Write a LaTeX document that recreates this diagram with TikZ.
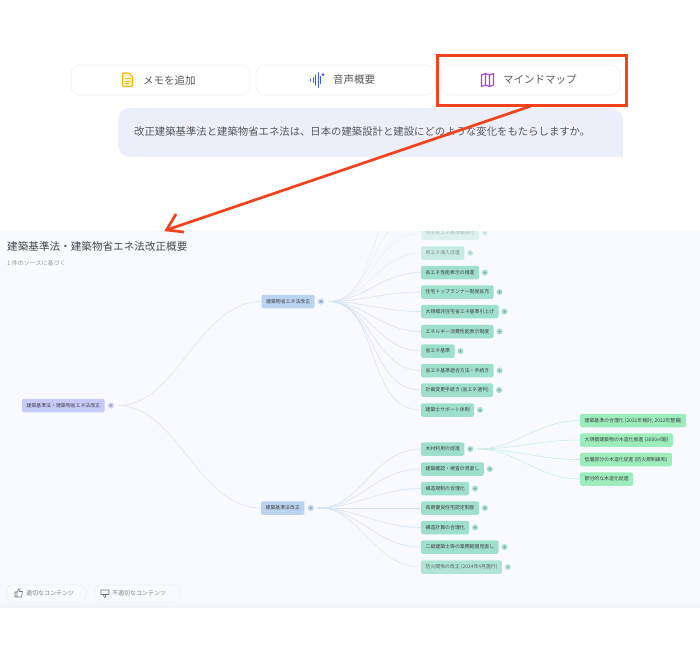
\documentclass[tikz,border=0pt]{standalone}
\usepackage{fontspec}
\setmainfont{Noto Sans CJK JP}
\usetikzlibrary{positioning}
\definecolor{panelbg}{HTML}{F8FAFF}
\definecolor{bubblebg}{HTML}{ECEEFA}
\definecolor{edgegray}{HTML}{EEF0F5}
\definecolor{marker}{HTML}{F4421A}
\definecolor{rootfill}{HTML}{C6CBFC}
\definecolor{mainfill}{HTML}{B9D3F1}
\definecolor{rowfill}{HTML}{9FE0CC}
\definecolor{leaffill}{HTML}{9DEDBC}
\definecolor{rootline}{HTML}{DFE2FC}
\definecolor{mainline}{HTML}{D5E3F7}
\definecolor{leafline}{HTML}{C9EDE3}
\definecolor{docicon}{HTML}{FBBC04}
\definecolor{waveicon}{HTML}{3F5BF6}
\definecolor{mapicon}{HTML}{B13CF0}
\begin{document}
\begin{tikzpicture}[x=1pt,y=-1pt]
    % Define styles
    \tikzset{
        topbutton/.style={draw=edgegray, fill=white, rounded corners=9pt, minimum width=179pt, minimum height=30pt, inner sep=0pt, line width=0.6pt},
        toplabel/.style={font=\fontsize{10.5}{12}\selectfont, text=black!65, inner sep=0pt},
        smallbutton/.style={draw=edgegray, fill=panelbg, rounded corners=7pt, minimum height=17pt, inner sep=0pt, line width=0.6pt},
        smalllabel/.style={font=\fontsize{6}{7}\selectfont, text=black!50, inner sep=0pt},
        topicbase/.style={rounded corners=1.5pt, anchor=west, inner xsep=4.4pt, inner ysep=0pt, minimum height=13.5pt, font=\fontsize{4.9}{6}\selectfont, text=black!75},
        roottopic/.style={topicbase, fill=rootfill},
        maintopic/.style={topicbase, fill=mainfill},
        rowtopic/.style={topicbase, fill=rowfill},
        leaftopic/.style={topicbase, fill=leaffill},
        togglebtn/.style={circle, fill=#1, minimum size=6pt, inner sep=0pt, path picture={\fill[black!45] (path picture bounding box.center) circle (1pt);}},
        branch/.style={line width=0.6pt, draw=#1, shorten <=4pt},
        redline/.style={draw=marker, line width=2.7pt}
    }

    \useasboundingbox (0,0) rectangle (700,649);

    % Draw top buttons
    \node[topbutton] (memo) at (160.5,80) {};
    \node[topbutton] (audio) at (345.5,80) {};
    \node[topbutton] (mindmap) at (530.5,80) {};
    \node[toplabel, anchor=west] (memolabel) at (143,80) {メモを追加};
    \node[toplabel, anchor=west] (audiolabel) at (333,80) {音声概要};
    \node[toplabel, anchor=west] (mindmaplabel) at (503,80) {マインドマップ};

    % Draw button icons
    \draw[draw=docicon, line width=1.3pt, rounded corners=1.2pt, fill=docicon!15] (122.5,73) -- (129,73) -- (132.5,76.5) -- (132.5,86.5) -- (122.5,86.5) -- cycle;
    \draw[draw=docicon, line width=0.9pt] (124.5,78.5) -- (130.5,78.5) (124.5,81) -- (130.5,81) (124.5,83.5) -- (128.5,83.5);
    \foreach \barx/\barh in {310.5/1,313/2.5,315.5/5,318/7.5,320.5/3.5} {
        \draw[draw=waveicon, line width=1pt, line cap=round] (\barx,80-\barh) -- (\barx,80+\barh);
    }
    \fill[waveicon] (323,74.5) circle (1.5pt);
    \draw[draw=mapicon, line width=1.1pt, line join=round] (481.5,75) -- (485.5,73.5) -- (489.5,75) -- (493.5,73.5) -- (493.5,85) -- (489.5,86.5) -- (485.5,85) -- (481.5,86.5) -- cycle (485.5,73.5) -- (485.5,85) (489.5,75) -- (489.5,86.5);

    % Draw question bubble
    \fill[bubblebg, rounded corners=12pt] (118,108) -- (623,108) -- (623,140) [sharp corners] -- (623,157) [rounded corners=12pt] -- (118,157) -- cycle;
    \node[toplabel, anchor=west, font=\fontsize{10.37}{12}\selectfont] (question) at (134,131.5) {改正建築基準法と建築物省エネ法は、日本の建築設計と建設にどのような変化をもたらしますか。};

    % Draw mind map panel
    \fill[panelbg] (0,231) rectangle (700,600);
    \shade[top color=panelbg, bottom color=black!3!panelbg] (0,600) rectangle (700,607);

    % Draw mind map heading
    \node[anchor=west, inner sep=0pt, font=\fontsize{10.6}{12}\selectfont, text=black!72] (maptitle) at (7,246) {建築基準法・建築物省エネ法改正概要};
    \node[anchor=west, inner sep=0pt, font=\fontsize{6}{7}\selectfont, text=black!40] (mapsource) at (7,263) {1 件のソースに基づく};

    \begin{scope}
        \clip (0,231) rectangle (700,607);

        % Draw root and main topics
        \node[roottopic] (root) at (22,405.5) {建築基準法・建築物省エネ法改正};
        \node[togglebtn=rootfill, right=3pt of root] (rootdot) {};
        \node[maintopic] (energy) at (261.5,301.5) {建築物省エネ法改正};
        \node[togglebtn=mainfill, right=3pt of energy] (energydot) {};
        \node[maintopic] (building) at (261,508) {建築基準法改正};
        \node[togglebtn=mainfill, right=3pt of building] (buildingdot) {};
        \draw[branch=rootline] (rootdot.east) to[out=0, in=180, looseness=0.9] (energy.west);
        \draw[branch=rootline] (rootdot.east) to[out=0, in=180, looseness=0.9] (building.west);

        % Draw branches that run out of the panel
        \coordinate (hiddena) at (421,214);
        \coordinate (hiddenb) at (421,194);
        \draw[branch=mainline, opacity=0.5] (energydot.east) to[out=0, in=180] (hiddena);
        \draw[branch=mainline, opacity=0.5] (energydot.east) to[out=0, in=180] (hiddenb);

        % Draw energy law rows
        \foreach \rowname/\rowy/\rowfade/\rowtext in {
            ea/233/0.3/住宅省エネ基準義務化,
            eb/253/0.55/再エネ導入促進,
            ec/272.5/1/省エネ性能表示の推進,
            ed/292/1/住宅トップランナー制度拡充,
            ee/311.5/1/大規模非住宅省エネ基準引上げ,
            ef/331.5/1/エネルギー消費性能表示制度,
            eg/351/1/省エネ基準,
            eh/370.5/1/省エネ基準適合方法・手続き,
            ei/390/1/計画変更手続き (省エネ適判),
            ej/410/1/建築士サポート体制} {
            \node[rowtopic, opacity=\rowfade] (\rowname) at (421,\rowy) {\rowtext};
            \node[togglebtn=rowfill, opacity=\rowfade, right=2.5pt of \rowname] (\rowname-dot) {};
            \draw[branch=mainline, opacity=\rowfade] (energydot.east) to[out=0, in=180] (\rowname.west);
        }

        % Draw building law rows
        \foreach \rowname/\rowy/\rowfade/\rowtext in {
            ba/449/1/木材利用の促進,
            bb/469/1/建築確認・検査の見直し,
            bc/488.5/1/構造規制の合理化,
            bd/508/1/長期優良住宅認定制度,
            be/527.5/1/構造計算の合理化,
            bf/547/1/二級建築士等の業務範囲見直し,
            bg/567/0.8/防火関係の改正 (2024年4月施行)} {
            \node[rowtopic, opacity=\rowfade] (\rowname) at (421,\rowy) {\rowtext};
            \node[togglebtn=rowfill, opacity=\rowfade, right=2.5pt of \rowname] (\rowname-dot) {};
            \draw[branch=mainline, opacity=\rowfade] (buildingdot.east) to[out=0, in=180] (\rowname.west);
        }

        % Draw timber leaves
        \foreach \leafname/\leafy/\leaftext in {
            la/420.5/{建築基準の合理化 (2021年検討, 2022年整備)},
            lb/440/大規模建築物の木造化推進 (3000㎡超),
            lc/459.5/低層部分の木造化促進 (防火規制緩和),
            ld/479/部分的な木造化促進} {
            \node[leaftopic] (\leafname) at (580,\leafy) {\leaftext};
            \draw[branch=leafline] (ba-dot.east) to[out=0, in=180] (\leafname.west);
        }
    \end{scope}

    % Draw feedback buttons
    \node[smallbutton, minimum width=80pt] (goodbtn) at (46.5,593.5) {};
    \node[smallbutton, minimum width=86pt] (badbtn) at (137,593.5) {};
    \node[smalllabel, anchor=west] (goodlabel) at (26,593.5) {適切なコンテンツ};
    \node[smalllabel, anchor=west] (badlabel) at (112,593.5) {不適切なコンテンツ};
    \draw[black!55, line width=0.6pt, line join=round] (15,592) rectangle (17,597) (17,592) -- (19,588.5) -- (20,589.5) -- (19.5,591.5) -- (22.5,591.5) -- (21.5,597) -- (17,597);
    \draw[black!55, line width=0.6pt, line join=round] (101,590) rectangle (109,594.5) (103,594.5) -- (104.5,597.5) -- (105.5,597) -- (105.5,594.5);

    % Draw highlight box and arrow
    \node[draw=marker, line width=3pt, minimum width=189pt, minimum height=50pt, inner sep=0pt] (highlight) at (531.5,80) {};
    \coordinate (arrowstart) at (531,106);
    \coordinate (arrowtip) at (166.5,230);
    \coordinate (barba) at (176,214);
    \coordinate (barbb) at (184,232);
    \draw[redline] (arrowstart) -- (arrowtip);
    \draw[redline, line join=miter] (barba) -- (arrowtip) -- (barbb);
\end{tikzpicture}
\end{document}
